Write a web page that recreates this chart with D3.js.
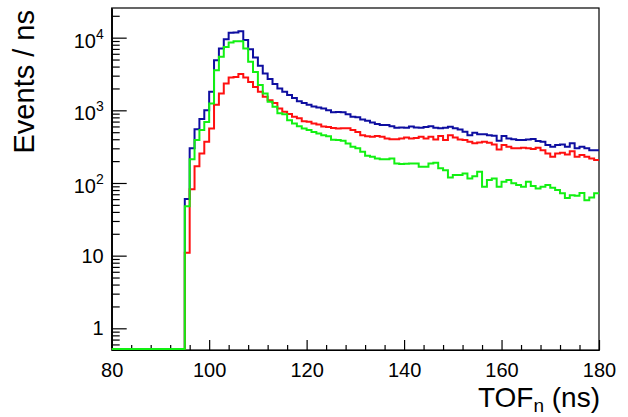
<!DOCTYPE html>
<html>
<head>
<meta charset="utf-8">
<script src="https://cdn.jsdelivr.net/npm/d3@7"></script>
<style>
  html, body { margin: 0; padding: 0; background: #fff; }
  svg { display: block; }
  text { font-family: "Liberation Sans", Arial, Helvetica, sans-serif; fill: #000; }
</style>
</head>
<body>
<svg id="chart" width="628" height="417"></svg>
<script>
// ---- Data (1 ns bins, first bin low edge 80 ns) ----
const binStart = 80;
const binWidth = 1;

const blueCounts = [
  0,0,0,0,0,0,0,0,0,0,0,0,0,0,0,
  60,300,550,760,1000,1800,4900,7100,9500,11700,
  11800,12300,9300,6950,5330,4100,3200,2700,2300,2000,
  1800,1620,1480,1330,1260,1190,1130,1090,1060,1000,
  940,950,940,880,815,800,750,717,680,647,
  626,626,606,575,580,575,600,580,575,590,
  605,575,565,575,593,565,546,506,455,490,
  470,470,455,447,380,442,410,400,390,390,
  398,402,377,369,333,315,333,339,315,351,
  300,315,300,283,283
];
const redCounts = [
  0,0,0,0,0,0,0,0,0,0,0,0,0,0,0,
  11,82,170,255,370,560,1190,1700,2340,2840,
  2880,3150,2840,2460,2100,1800,1540,1380,1260,1060,
  955,890,815,780,710,695,660,640,600,590,
  570,560,565,565,535,505,455,440,432,445,
  432,410,400,400,410,423,410,417,432,410,
  432,398,442,390,455,424,398,390,369,351,
  362,369,359,339,290,333,315,300,300,305,
  300,293,305,283,255,229,255,260,246,274,
  229,242,229,218,207
];
const greenCounts = [
  0,0,0,0,0,0,0,0,0,0,0,0,0,0,0,
  48,212,390,535,690,1240,3560,5450,7460,8600,
  8900,8900,7100,4660,3380,2230,1700,1310,1120,910,
  880,730,660,605,560,535,505,480,455,440,
  395,390,380,350,315,300,270,237,229,218,
  213,213,218,186,182,184,186,186,167,167,
  186,190,159,150,119,129,129,135,115,124,
  143,89,110,115,89,104,110,99,94,89,
  104,91,84,89,94,86,80,72,62,68,
  67,73,58,63,72
];

const xMajorTicks = [80, 100, 120, 140, 160, 180];
const xMinorTicks = [84,88,92,96,104,108,112,116,124,128,132,136,144,148,152,156,164,168,172,176];
const yMajorTicks = [1, 10, 100, 1000, 10000];
const yTickBase = ["1", "10", "10", "10", "10"];
const yTickExp  = ["", "", "2", "3", "4"];
const yMinorTicks = [0.6,0.7,0.8,0.9, 2,3,4,5,6,7,8,9, 20,30,40,50,60,70,80,90,
  200,300,400,500,600,700,800,900, 2000,3000,4000,5000,6000,7000,8000,9000, 20000];

const xTitle = "TOF";
const xTitleSub = "n";
const xTitleTail = " (ns)";
const yTitle = "Events / ns";

// ---- Layout ----
const svg = d3.select("#chart");
const L = 111.7, R = 599, T = 8, B = 350;
const yMin = 0.503, yMax = 25600;

const x = d3.scaleLinear().domain([80, 180]).range([L, R]);
const y = d3.scaleLog().domain([yMin, yMax]).range([B, T]);

// Frame
svg.append("rect")
  .attr("x", L).attr("y", T)
  .attr("width", R - L).attr("height", B - T)
  .attr("fill", "none").attr("stroke", "#000").attr("stroke-width", 1.2);

// X axis
const gx = svg.append("g").attr("transform", `translate(0,${B})`);
gx.call(d3.axisBottom(x).tickValues(xMajorTicks).tickSizeInner(-10).tickSizeOuter(0).tickPadding(13).tickFormat(d3.format("d")));
const gxm = svg.append("g").attr("transform", `translate(0,${B})`);
gxm.call(d3.axisBottom(x).tickValues(xMinorTicks).tickSizeInner(-5).tickSizeOuter(0).tickFormat(""));
[gx, gxm].forEach(g => {
  g.select(".domain").attr("stroke", "#000").attr("stroke-width", 1.2);
  g.selectAll(".tick line").attr("stroke", "#000").attr("stroke-width", 1.2);
});
gx.selectAll(".tick text").attr("font-size", "20px").attr("font-family", "Liberation Sans, Arial, sans-serif").attr("fill", "#000");

// Y axis
const gy = svg.append("g").attr("transform", `translate(${L},0)`);
gy.call(d3.axisLeft(y).tickValues(yMajorTicks).tickSizeInner(-15).tickSizeOuter(0).tickFormat(""));
const gym = svg.append("g").attr("transform", `translate(${L},0)`);
gym.call(d3.axisLeft(y).tickValues(yMinorTicks).tickSizeInner(-8).tickSizeOuter(0).tickFormat(""));
[gy, gym].forEach(g => {
  g.select(".domain").attr("stroke", "#000").attr("stroke-width", 1.2);
  g.selectAll(".tick line").attr("stroke", "#000").attr("stroke-width", 1.2);
});

// Y tick labels with superscripts
yMajorTicks.forEach((v, i) => {
  const hasExp = yTickExp[i] !== "";
  const t = gy.append("text")
    .attr("x", -8)
    .attr("y", y(v) + (hasExp ? 10 : 7))
    .attr("text-anchor", "end")
    .attr("font-size", "20px");
  t.append("tspan").text(yTickBase[i]);
  if (hasExp) {
    t.append("tspan").attr("dy", -9).attr("font-size", "14px").text(yTickExp[i]);
  }
});

// Histograms (drawn on top of the frame, as in the reference)
const series = [
  { counts: blueCounts, color: "#0e0ea0" },
  { counts: redCounts, color: "#ff1010" },
  { counts: greenCounts, color: "#12f012" }
];

const line = d3.line()
  .x(d => x(d[0]))
  .y(d => Math.min(y(Math.max(d[1], yMin)), B - 1))
  .curve(d3.curveStepAfter);

series.forEach(s => {
  const pts = s.counts.map((v, i) => [binStart + i * binWidth, v]);
  pts.push([binStart + s.counts.length * binWidth, s.counts[s.counts.length - 1]]);
  svg.append("path")
    .datum(pts)
    .attr("d", line)
    .attr("fill", "none")
    .attr("stroke", s.color)
    .attr("stroke-width", 2)
    .attr("stroke-linejoin", "miter");
});

// X title
const xt = svg.append("text")
  .attr("x", 600).attr("y", 407)
  .attr("text-anchor", "end")
  .attr("font-size", "28px");
xt.append("tspan").text(xTitle);
xt.append("tspan").attr("dy", 5).attr("font-size", "19px").text(xTitleSub);
xt.append("tspan").attr("dy", -5).text(xTitleTail);

// Y title
svg.append("text")
  .attr("transform", "translate(33.5,10) rotate(-90)")
  .attr("text-anchor", "end")
  .attr("font-size", "29px")
  .text(yTitle);
</script>
</body>
</html>
